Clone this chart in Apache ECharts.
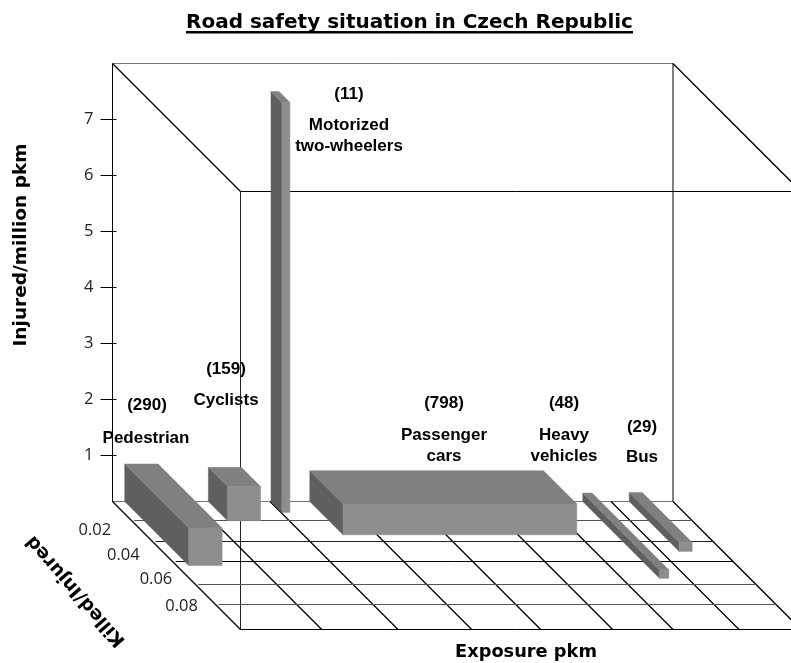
<!DOCTYPE html>
<html><head><meta charset="utf-8">
<style>html,body{margin:0;padding:0;background:#fff}#c{width:791px;height:663px}</style>
<script src="https://cdn.jsdelivr.net/npm/echarts@6/dist/echarts.min.js"></script>
</head><body><div id="c"></div>
<script>
// ---- data ----
const categories = ['Pedestrian','Cyclists','Motorized two-wheelers','Passenger cars','Heavy vehicles','Bus'];
const counts = ['(290)','(159)','(11)','(798)','(48)','(29)'];
const exposureStart = [2.18,17.1,28.28,35.2,83.9,92.2];
const exposureWidth = [5.96,5.89,1.43,41.7,1.66,2.32];
const killedPerInjured = [0.05,0.015,0.0085,0.026,0.06,0.039];
const injuredPerMillion = [0.85,0.79,7.5,0.73,0.33,0.34];
const injuredTicks = [1,2,3,4,5,6,7];
const killedTicks = [0.02,0.04,0.06,0.08];
const exposureGrid = [14.49,28.1,41.25,53.56,66.4,77.16,88.94];
const killedGrid = [0.0148,0.0315,0.0471,0.0648,0.0807];

// ---- layout and style ----
const Y_MIN = 0.18, Y_MAX = 8, X_MAX = 100, Z_MAX = 0.1, DEPTH_PX = 1280;
const DIAG_W = 1.3;
const killedGridColor = ['#555','#222','#000','#555','#555'];
const killedLabelGap = [27,24,17,17];
const killedLabelDy = [3.4,3,1,2.6];
const labelPos = [[147,405,146,438],[226,369,226,400],[349,94,349,125],[444,403,444,435],[564,403,564,435],[642,427,642,457]];
const labelLines = [['Pedestrian'],['Cyclists'],['Motorized','two-wheelers'],['Passenger','cars'],['Heavy','vehicles'],['Bus']];
const titleFamily = 'DejaVu Sans';
const labelFamily = 'Liberation Sans';

const chart = echarts.init(document.getElementById('c'),null,{renderer:'canvas'});
const P = (api,x,y,z)=>{const c=api.coord([x,y]);return [c[0]+z*DEPTH_PX,c[1]+z*DEPTH_PX];};
const seg = (a,b,color,w)=>({type:'line',shape:{x1:a[0],y1:a[1],x2:b[0],y2:b[1]},style:{stroke:color||'#000',lineWidth:w||1}});
const poly = (pts,fill)=>({type:'polygon',shape:{points:pts},style:{fill:fill,stroke:fill,lineWidth:0.5}});
const txt = (s,x,y,family,size,weight,extra)=>Object.assign({type:'text',x:x,y:y,style:{text:s,align:'center',verticalAlign:'middle',fontFamily:family,fontSize:size,fontWeight:weight,fill:'#000'}},extra||{});

function renderFrame(params,api){
  const ch=[];
  const p=(x,y,z)=>P(api,x,y,z);
  ch.push(seg(p(0,Y_MAX,0),p(X_MAX,Y_MAX,0),'#777'));
  ch.push(seg(p(0,Y_MIN,0),p(X_MAX,Y_MIN,0),'#777'));
  ch.push(seg(p(0,Y_MAX,0),p(0,Y_MIN,0),'#000'));
  ch.push(seg(p(X_MAX,Y_MAX,0),p(X_MAX,Y_MIN,0),'#000'));
  ch.push(seg(p(0,Y_MAX,Z_MAX),p(0,Y_MIN,Z_MAX),'#222'));
  ch.push(seg(p(0,Y_MAX,Z_MAX),p(X_MAX,Y_MAX,Z_MAX),'#000'));
  ch.push(seg(p(0,Y_MIN,Z_MAX),p(X_MAX,Y_MIN,Z_MAX),'#000'));
  ch.push(seg(p(0,Y_MAX,0),p(0,Y_MAX,Z_MAX),'#000',DIAG_W));
  ch.push(seg(p(X_MAX,Y_MAX,0),p(X_MAX,Y_MAX,Z_MAX),'#000',DIAG_W));
  ch.push(seg(p(0,Y_MIN,0),p(0,Y_MIN,Z_MAX),'#000',DIAG_W));
  ch.push(seg(p(X_MAX,Y_MIN,0),p(X_MAX,Y_MIN,Z_MAX),'#000',DIAG_W));
  exposureGrid.forEach(x=>ch.push(seg(p(x,Y_MIN,0),p(x,Y_MIN,Z_MAX),'#000',DIAG_W)));
  killedGrid.forEach((z,i)=>{
    const a=p(0.5,Y_MIN,z),b=p(X_MAX,Y_MIN,z),yy=Math.round(a[1]-0.5)+0.5;
    ch.push(seg([a[0],yy],[b[0],yy],killedGridColor[i]));
  });
  killedTicks.forEach((z,i)=>{
    const c=p(0,Y_MIN,z);
    ch.push({type:'text',style:{text:z.toFixed(2),x:c[0]-killedLabelGap[i],y:c[1]+killedLabelDy[i],
      align:'right',verticalAlign:'middle',fontFamily:'Open Sans',fontSize:16.5,fill:'#222'}});
  });
  return {type:'group',children:ch};
}
function renderBar(params,api){
  const x0=api.value(0),x1=x0+api.value(1),z=api.value(2),top=api.value(3);
  const p=(x,y,zz)=>P(api,x,y,zz);
  return {type:'group',children:[
    poly([p(x0,Y_MIN,0),p(x0,top,0),p(x0,top,z),p(x0,Y_MIN,z)],'#5f5f5f'),
    poly([p(x0,top,0),p(x1,top,0),p(x1,top,z),p(x0,top,z)],'#808080'),
    poly([p(x0,Y_MIN,z),p(x0,top,z),p(x1,top,z),p(x1,Y_MIN,z)],'#8e8e8e')
  ]};
}
const barData = categories.map((c,i)=>({name:c,value:[exposureStart[i],exposureWidth[i],killedPerInjured[i],injuredPerMillion[i]]}));

const texts=[];
categories.forEach((c,i)=>{
  const t=labelPos[i];
  texts.push(txt(counts[i],t[0],t[1],labelFamily,17,'bold'));
  labelLines[i].forEach((l,j)=>texts.push(txt(l,t[2],t[3]+j*21.5,labelFamily,17,'bold')));
});
texts.push(txt('Road safety situation in Czech Republic',409.5,22.5,titleFamily,20,'bold'));
texts.push({type:'rect',shape:{x:186,y:31,width:447,height:2.5},style:{fill:'#000'}});
texts.push(txt('Exposure pkm',526,652,titleFamily,17.8,'bold'));
texts.push(txt('Injured/million pkm',21,245,titleFamily,18.5,'bold',{rotation:Math.PI/2}));
texts.push(txt('Killed/Injured',76,591,titleFamily,18.5,'bold',{rotation:131*Math.PI/180}));

chart.setOption({
  animation:false,
  backgroundColor:'#fff',
  grid:{left:112.5,top:63.5,width:560.5,height:438,containLabel:false},
  xAxis:{type:'value',min:0,max:X_MAX,show:false},
  yAxis:{type:'value',min:Y_MIN,max:Y_MAX,offset:-4,splitLine:{show:false},axisLine:{show:false},
    axisTick:{show:true,length:16,customValues:injuredTicks,lineStyle:{color:'#000',width:1}},
    axisLabel:{show:true,customValues:injuredTicks,margin:23,color:'#222',fontFamily:'Open Sans',fontSize:16.5,formatter:v=>String(v)}},
  series:[
    {type:'custom',name:'frame',clip:false,silent:true,data:[[0,0]],renderItem:renderFrame,encode:{x:0,y:1}},
    {type:'custom',name:'Road users',clip:false,data:barData,renderItem:renderBar,encode:{x:0,y:3}}
  ],
  graphic:{elements:texts}
});
</script></body></html>
